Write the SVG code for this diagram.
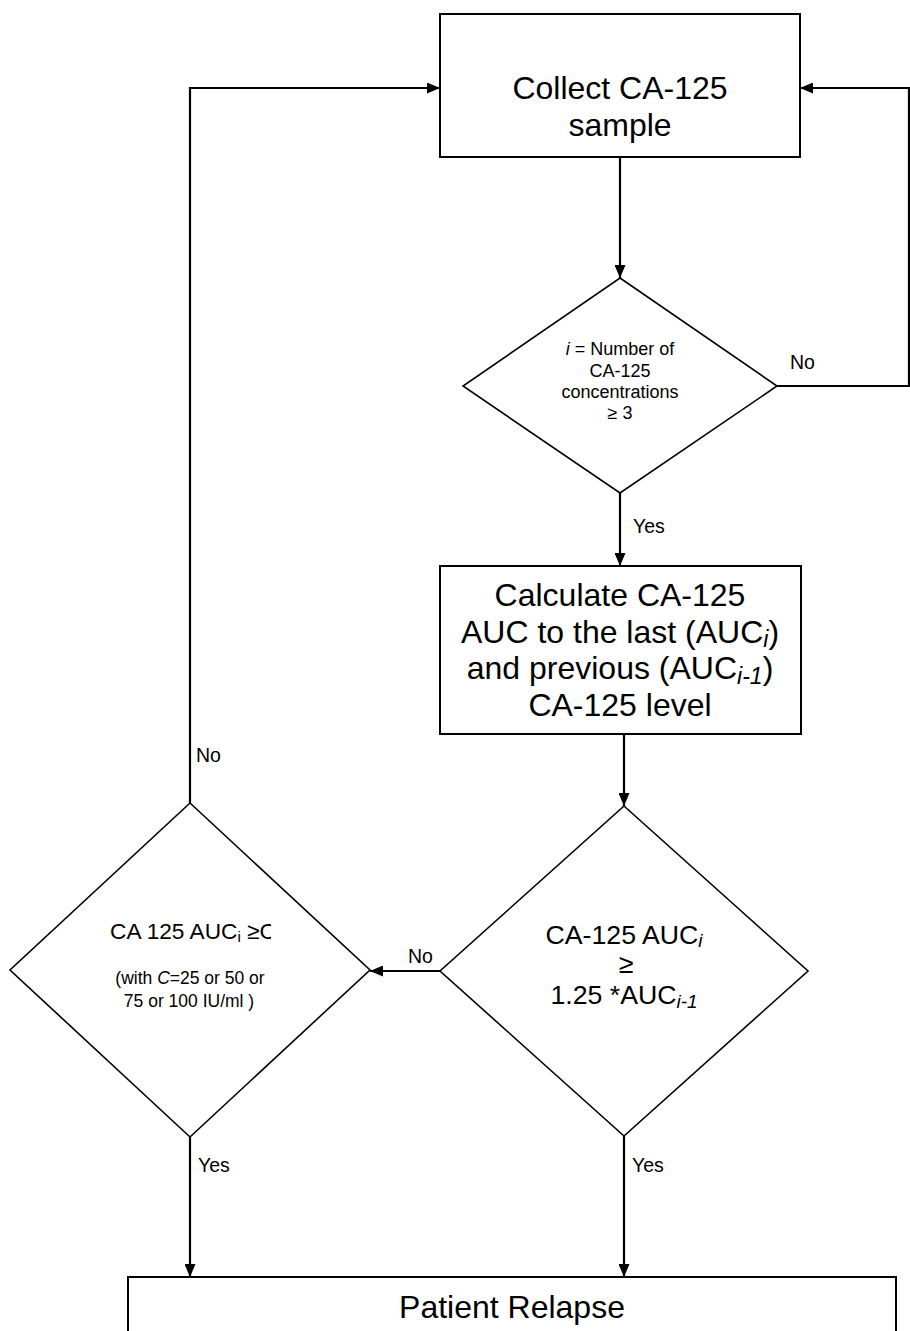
<svg xmlns="http://www.w3.org/2000/svg" width="910" height="1331" viewBox="0 0 910 1331">
<style>
.box{fill:#fff;stroke:#000;stroke-width:2}
.dia{fill:#fff;stroke:#000;stroke-width:1.6}
.con{fill:none;stroke:#000;stroke-width:2.2}
text{font-family:"Liberation Sans",Arial,sans-serif;fill:#000}
.big{font-size:32px;text-anchor:middle}
.mid{font-size:26.7px;text-anchor:middle}
.d3{font-size:22.7px;text-anchor:middle}
.sm{font-size:17.5px;text-anchor:middle}
.d1{font-size:18px;text-anchor:middle}
.lbl{font-size:19.5px}
.it{font-style:italic}
</style>
<defs>
<marker id="arr" viewBox="0 0 13 11" refX="13" refY="5.5" markerWidth="13" markerHeight="11" orient="auto" markerUnits="userSpaceOnUse">
<path d="M0,0 L13,5.5 L0,11 Z" fill="#000"/>
</marker>
<clipPath id="clipC"><rect x="0" y="900" width="271" height="60"/></clipPath>
</defs>
<rect width="910" height="1331" fill="#fff"/>

<g id="connectors">
<path class="con" d="M620 157 V278" marker-end="url(#arr)"/>
<path class="con" d="M777 386 H909 V88 H800" marker-end="url(#arr)"/>
<path class="con" d="M620 493 V566" marker-end="url(#arr)"/>
<path class="con" d="M624 734 V806" marker-end="url(#arr)"/>
<path class="con" d="M440 971 H370" marker-end="url(#arr)"/>
<path class="con" d="M190 803 V88 H440" marker-end="url(#arr)"/>
<path class="con" d="M190 1137 V1277" marker-end="url(#arr)"/>
<path class="con" d="M624 1136 V1277" marker-end="url(#arr)"/>
<text class="lbl" x="790" y="369">No</text>
<text class="lbl" x="633" y="533">Yes</text>
<text class="lbl" x="408" y="963">No</text>
<text class="lbl" x="196" y="762">No</text>
<text class="lbl" x="198" y="1172">Yes</text>
<text class="lbl" x="632" y="1172">Yes</text>
</g>

<g id="collect">
<rect class="box" x="440" y="14" width="360" height="143"/>
<text class="big" x="620" y="99">Collect CA-125</text>
<text class="big" x="620" y="136">sample</text>
</g>

<g id="count-check">
<polygon class="dia" points="620,278 777,386 620,493 463,386"/>
<text class="d1" x="620" y="355"><tspan class="it">i</tspan> = Number of</text>
<text class="d1" x="620" y="377">CA-125</text>
<text class="d1" x="620" y="398">concentrations</text>
<text class="d1" x="620" y="419">≥ 3</text>
</g>

<g id="calculate">
<rect class="box" x="440" y="566" width="361" height="168"/>
<text class="big" x="620" y="606">Calculate CA-125</text>
<text class="big" x="620" y="643">AUC to the last (AUC<tspan class="it" font-size="23" dy="4">i</tspan><tspan dy="-4">)</tspan></text>
<text class="big" x="620" y="679">and previous (AUC<tspan class="it" font-size="23" dy="5">i-1</tspan><tspan dy="-5">)</tspan></text>
<text class="big" x="620" y="716">CA-125 level</text>
</g>

<g id="ratio-check">
<polygon class="dia" points="624,806 808,971 624,1136 440,971"/>
<text class="mid" x="624" y="944">CA-125 AUC<tspan class="it" font-size="19" dy="3">i</tspan></text>
<text class="mid" x="626" y="973">≥</text>
<text class="mid" x="624" y="1004">1.25 *AUC<tspan class="it" font-size="19" dy="4">i-1</tspan></text>
</g>

<g id="threshold-check">
<polygon class="dia" points="190,803 370,970 190,1137 10,970"/>
<text class="d3" x="193" y="939" clip-path="url(#clipC)">CA 125 AUC<tspan font-size="15" dy="3">i</tspan><tspan dy="-3"> ≥C</tspan></text>
<text class="sm" x="190" y="984">(with <tspan class="it">C</tspan>=25 or 50 or</text>
<text class="sm" x="189" y="1007">75 or 100 IU/ml )</text>
</g>

<g id="relapse">
<rect class="box" x="128" y="1277" width="768" height="80"/>
<text class="big" x="512" y="1318">Patient Relapse</text>
</g>
</svg>
